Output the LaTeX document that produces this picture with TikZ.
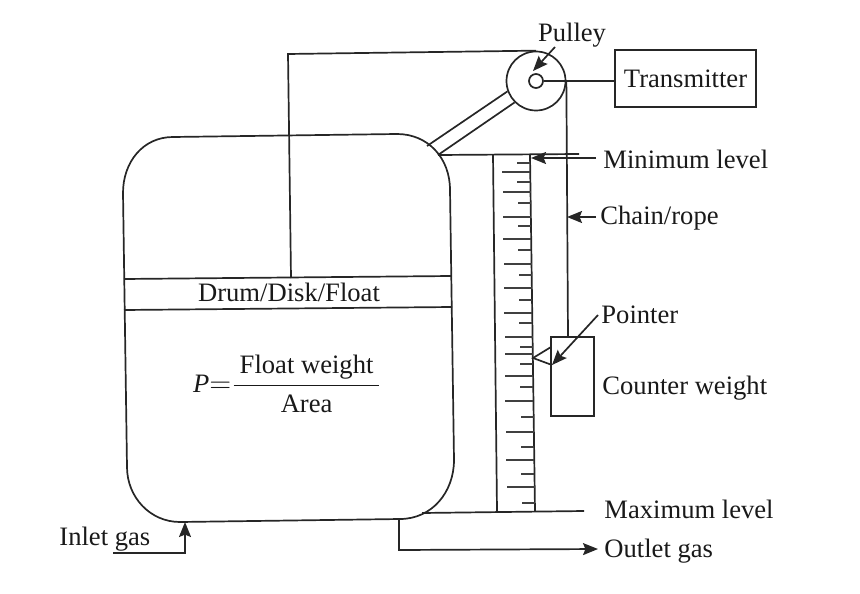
\documentclass[tikz,border=0pt]{standalone}
\usepackage{amsmath}
\usepackage{fontspec}
\setmainfont{Liberation Serif}
\usetikzlibrary{arrows.meta, positioning}

\begin{document}
\begin{tikzpicture}[
  x=.5pt, y=-.5pt,
  >={Stealth[length=7.5pt, width=6pt, inset=1.2pt]},
  rule/.style={draw=black!85, line width=.85pt},
  tick/.style={draw=black!75, line width=.9pt},
  lab/.style={font=\fontsize{13.3}{16}\selectfont, text=black!90, inner sep=0pt},
  box/.style={rule, rectangle, inner sep=0pt},
  node distance=4pt]
  \useasboundingbox (0,0) rectangle (860,593);
  % vessel and float
  \draw[rule] (173,137) -- (397,134) .. controls (428,134) and (450,158) .. (450,190)
    -- (454,460) .. controls (454,492) and (432,519) .. (400,519)
    -- (180,522) .. controls (150,522) and (127,497) .. (127,467)
    -- (123,193) .. controls (123,162) and (143,137) .. (173,137);
  \draw[rule] (124,279) -- (451,276);
  \draw[rule] (124,310) -- (452,307);
  \node[lab] (float) at (289,292) {Drum/Disk/Float};
  \node[lab] (press) at (287.5,384) {$\textit{P}{=}\dfrac{\hspace{3pt}\text{Float weight}\hspace{3pt}}{\text{Area}}$};
  % pulley and transmitter
  \node[box, circle, minimum size=29.5pt] (pulley) at (536,81) {};
  \node[box, circle, minimum size=7pt] (hub) at (536,81) {};
  \node[box, lab, minimum width=70.5pt, minimum height=28.5pt] (trans) at (685.5,78.5) {Transmitter};
  \node[lab] (pulleylab) at (572,35) {Pulley};
  \coordinate (rodtop) at (288,54);
  \coordinate (rodend) at (291,278);
  \coordinate (armA) at (427,146);
  \coordinate (armB) at (438,155);
  \draw[rule] (rodend) -- (rodtop) -- (pulley.north);
  \draw[rule] (armA) -- (pulley.200);
  \draw[rule] (armB) -- (pulley.225);
  \draw[rule] (hub.east) -- (hub.east -| trans.west);
  \coordinate (pulltail) at (555,47);
  \draw[rule, ->] (pulltail) -- (533,71);
  % chain and counter weight
  \node[box, minimum width=21.5pt, minimum height=39.5pt] (weight) at (572.5,376.5) {};
  \coordinate (chainend) at (568,337);
  \draw[rule] (pulley.east) -- (chainend);
  \node[lab, anchor=west] (cwlab) at (602,388) {Counter weight};
  % scale
  \coordinate (scaleTL) at (493,155);
  \coordinate (scaleBL) at (497,511);
  \coordinate (scaleTR) at (530,155);
  \coordinate (scaleBR) at (535,511);
  \coordinate (minend) at (579,154);
  \coordinate (maxbeg) at (422,513);
  \coordinate (maxend) at (584,511);
  \draw[rule] (scaleTL) -- (scaleBL);
  \draw[rule] (scaleTR) -- (scaleBR);
  \draw[rule] (armB) -- (minend);
  \draw[rule] (maxbeg) -- (maxend);
  \foreach \ty in {172,192,217,239,264,288,313,337,354,376,401,432,460,487} {
    \pgfmathsetmacro\tx{530+(\ty-155)*5/356}
    \draw[tick] (\tx,\ty) -- (\tx-28,\ty);
  }
  \foreach \ty in {163,182,203,226,250,275,300,323,347,364,387,417,447,474,503} {
    \pgfmathsetmacro\tx{530+(\ty-155)*5/356}
    \draw[tick] (\tx,\ty) -- (\tx-13,\ty);
  }
  % pointer
  \coordinate (ptrtip) at (533,358);
  \coordinate (ptrtop) at (551,347);
  \coordinate (ptrbot) at (552,365);
  \draw[rule] (ptrtop) -- (ptrtip) -- (ptrbot);
  % labels and their arrows
  \node[lab, anchor=west] (minlab) at (603,159) {Minimum level};
  \node[lab, anchor=west] (chainlab) at (600,218) {Chain/rope};
  \node[lab, anchor=west] (ptrlab) at (601,315) {Pointer};
  \node[lab, anchor=west] (maxlab) at (604,509) {Maximum level};
  \node[lab, anchor=west] (outlab) at (604,551) {Outlet gas};
  \node[lab, anchor=west] (inlab) at (59,539) {Inlet gas};
  \coordinate (mintip) at (531,158);
  \coordinate (chaintip) at (567,217);
  \draw[rule, ->] (minlab.west |- mintip) ++(-7,0) -- (mintip);
  \draw[rule, ->] (chainlab.west |- chaintip) ++(-4,0) -- (chaintip);
  \draw[rule, ->] (598,315) -- (ptrbot);
  % gas lines
  \coordinate (outbeg) at (399,520);
  \coordinate (outbend) at (399,550);
  \coordinate (inbeg) at (113,553);
  \coordinate (inbend) at (185,553);
  \coordinate (intip) at (185,522);
  \draw[rule, ->] (outbeg) -- (outbend) -- (598,549);
  \draw[rule, ->] (inbeg) -- (inbend) -- (intip);
\end{tikzpicture}
\end{document}
